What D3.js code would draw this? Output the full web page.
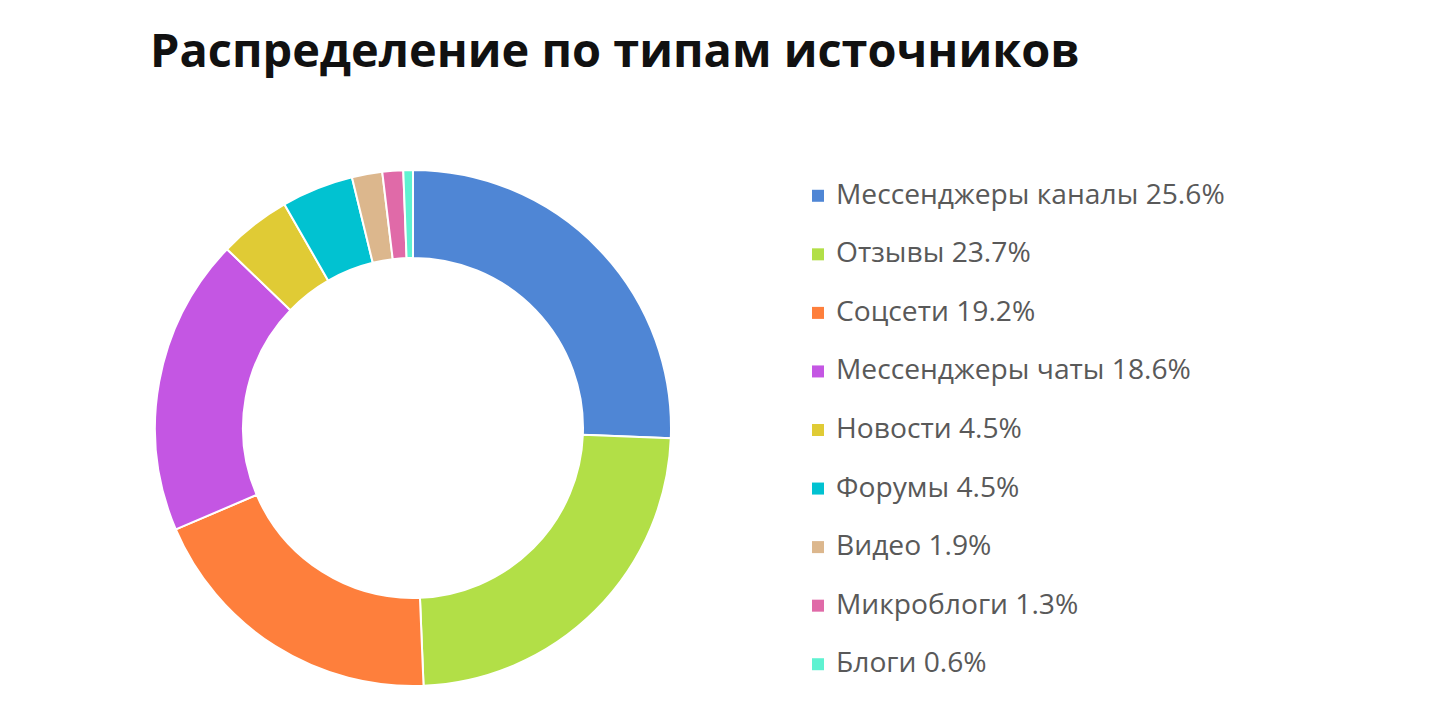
<!DOCTYPE html>
<html>
<head>
<meta charset="utf-8">
<script src="https://cdn.jsdelivr.net/npm/d3@7"></script>
<style>
  html, body { margin: 0; padding: 0; background: #fff; }
  svg { display: block; }
</style>
</head>
<body>
<svg id="chart" width="1440" height="724"></svg>
<script>
// data
const titleText = "Распределение по типам источников";
const categories = ["Мессенджеры каналы", "Отзывы", "Соцсети", "Мессенджеры чаты",
                    "Новости", "Форумы", "Видео", "Микроблоги", "Блоги"];
const shares = [25.6, 23.7, 19.2, 18.6, 4.5, 4.5, 1.9, 1.3, 0.6];
const colors = ["#4f86d5", "#b2df47", "#fe7f3c", "#c456e3", "#e0cb35",
                "#01c2d1", "#dcb78d", "#e06aa8", "#5ff2d1"];

const svg = d3.select("#chart");
const cx = 413, cy = 428, rOut = 258, rIn = 170;

// title, stretched to the width it has in the picture
const title = svg.append("text")
    .attr("x", 150).attr("y", 67)
    .attr("font-family", "'Open Sans', 'Noto Sans', sans-serif")
    .attr("font-weight", 700)
    .attr("font-size", 44)
    .attr("fill", "#111")
    .text(titleText);
{
  const w = title.node().getComputedTextLength();
  title.attr("font-size", 44 * 930 / w);
}

// donut
const rows = categories.map((c, i) => ({name: c, value: shares[i], color: colors[i]}));
const pie = d3.pie().value(d => d.value).sort(null);
const arc = d3.arc().innerRadius(rIn).outerRadius(rOut);

svg.append("g")
    .attr("transform", `translate(${cx},${cy})`)
  .selectAll("path")
  .data(pie(rows))
  .join("path")
    .attr("d", arc)
    .attr("fill", d => d.data.color)
    .attr("stroke", "#fff")
    .attr("stroke-width", 2)
    .attr("stroke-linejoin", "round");

// legend
const y = d3.scaleBand().domain(categories).range([167, 694]);
const item = svg.append("g").selectAll("g")
  .data(rows)
  .join("g")
    .attr("transform", d => `translate(812,${y(d.name) + y.bandwidth() / 2})`);

item.append("rect")
    .attr("x", 0).attr("y", -6.5)
    .attr("width", 12).attr("height", 12)
    .attr("fill", d => d.color);

const labels = item.append("text")
    .attr("x", 24).attr("y", 7.5)
    .attr("font-family", "'Open Sans', 'Noto Sans', sans-serif")
    .attr("font-size", 22)
    .attr("fill", "#595959")
    .text(d => `${d.name} ${d.value}%`);

{
  const w = labels.nodes()[0].getComputedTextLength();
  labels.attr("font-size", 22 * 389 / w);
}
</script>
</body>
</html>
